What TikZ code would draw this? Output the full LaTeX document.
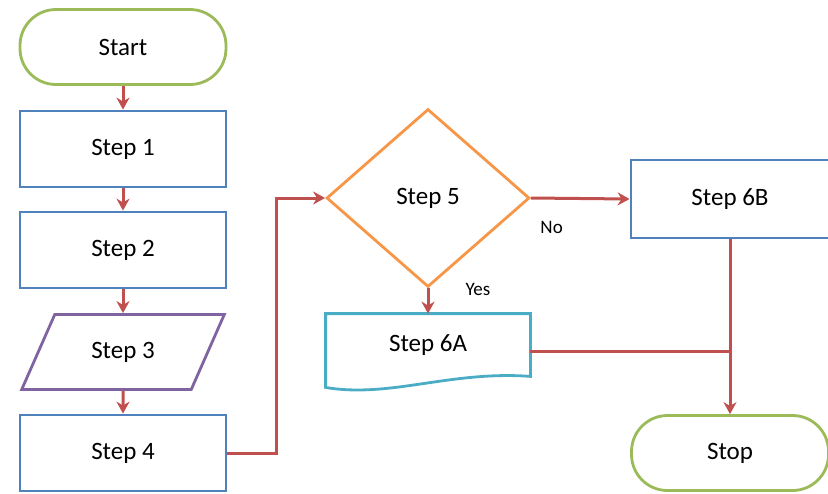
\documentclass[tikz,border=0pt]{standalone}
\usepackage{fontspec}
\setmainfont{Carlito}
\usetikzlibrary{arrows.meta, shapes.geometric, calc}

\definecolor{termgreen}{HTML}{9BBB59}
\definecolor{procblue}{HTML}{4F81BD}
\definecolor{iopurple}{HTML}{8064A2}
\definecolor{choiceorange}{HTML}{F79646}
\definecolor{docteal}{HTML}{4BACC6}
\definecolor{flowred}{HTML}{C0504D}

\begin{document}
\begin{tikzpicture}[x=0.5pt, y=-0.5pt, font=\fontsize{12.5}{15}\selectfont,
	terminal/.style={draw=termgreen, line width=1.4pt, rounded corners=18pt, minimum width=103pt, minimum height=37.5pt},
	process/.style={draw=procblue, line width=1.4pt, minimum width=103pt, minimum height=38pt},
	inout/.style={draw=iopurple, line width=1.4pt, trapezium, trapezium left angle=61, trapezium right angle=119, trapezium stretches=true, minimum width=101.5pt, minimum height=37.5pt},
	choice/.style={draw=choiceorange, line width=1.4pt, diamond, inner sep=0pt, minimum width=101.5pt, minimum height=89pt},
	flow/.style={draw=flowred, line width=1.5pt, -{Stealth[length=6pt, width=6.5pt]}},
	link/.style={draw=flowred, line width=1.5pt},
	answer/.style={font=\fontsize{9.5}{11}\selectfont, inner sep=1pt}]
		\useasboundingbox (0,0) rectangle (828,493);

		\node[terminal] (start) at (123,47) {Start};
		\node[process] (s1) at (123,149) {Step 1};
		\node[process] (s2) at (123,250) {Step 2};
		\node[inout] (s3) at (123,352) {Step 3};
		\node[process] (s4) at (123,453) {Step 4};
		\node[choice] (s5) at (428,198) {Step 5};
		\node[minimum width=102pt, minimum height=31pt] (s6a) at (428,345) {Step 6A};
		\node[process, minimum width=99pt, minimum height=39pt] (s6b) at (730,199) {Step 6B};
		\node[terminal, minimum width=98.5pt] (stop) at (730,453) {Stop};
		\coordinate (e6a) at ([yshift=-3pt]s6a.east);

		% document shape with wavy bottom
		\draw[docteal, line width=1.4pt] (s6a.south east) -- (s6a.north east) -- (s6a.north west)
			-- ($(s6a.south west)+(0,11)$) .. controls ($(s6a.south west)+(64,22)$) and ($(s6a.south east)+(-80,-6)$) .. (s6a.south east) -- cycle;

		\draw[flow] (start) -- (s1);
		\draw[flow] (s1) -- (s2);
		\draw[flow] (s2) -- (s3);
		\draw[flow] (s3) -- (s4);
		\draw[flow] (s4.east) -- ++(49,0) |- (s5.west);
		\draw[flow] (s5.east) -- (s6b.west) node[answer, pos=0.21, below=10pt] {No};
		\draw[flow] (s5.south) -- (s6a.north) node[answer, pos=0.05, right=17pt] {Yes};
		\draw[link] (e6a) -- (e6a -| s6b.south);
		\draw[flow] (s6b.south) -- (stop.north);
	\end{tikzpicture}
\end{document}
